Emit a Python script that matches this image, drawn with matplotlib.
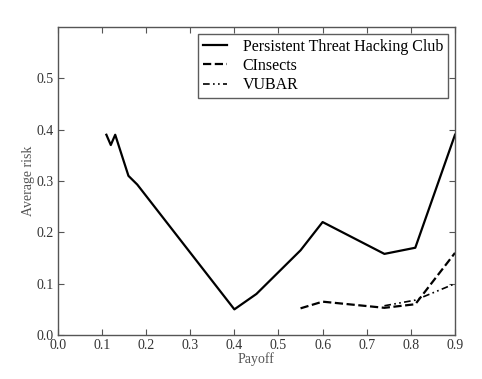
import numpy as np
import matplotlib.pyplot as plt

# Data
pthc_x = [0.11, 0.12, 0.13, 0.16, 0.18, 0.40, 0.45, 0.55, 0.60, 0.74, 0.81, 0.90]
pthc_y = [0.39, 0.37, 0.39, 0.31, 0.293, 0.05, 0.08, 0.165, 0.22, 0.158, 0.17, 0.39]

cins_x = [0.55, 0.60, 0.74, 0.81, 0.90]
cins_y = [0.052, 0.065, 0.053, 0.06, 0.16]

vubar_x = [0.74, 0.81, 0.90]
vubar_y = [0.057, 0.068, 0.10]

x_ticks = [0.0, 0.1, 0.2, 0.3, 0.4, 0.5, 0.6, 0.7, 0.8, 0.9]
y_ticks = [0.0, 0.1, 0.2, 0.3, 0.4, 0.5]

plt.rcParams['font.family'] = ['Liberation Serif', 'DejaVu Serif']

fig = plt.figure(figsize=(4.82, 3.79), dpi=100)
ax = fig.add_axes([0.120, 0.116, 0.824, 0.813])

ax.plot(pthc_x, pthc_y, color='black', linestyle='-', linewidth=1.6,
        label='Persistent Threat Hacking Club')
ax.plot(cins_x, cins_y, color='black', linestyle='--', linewidth=1.6,
        label='CInsects')
ax.plot(vubar_x, vubar_y, color='black', linestyle=(0, (4, 2, 1, 2, 1, 2)),
        linewidth=1.2, label='VUBAR')

ax.set_xlim(0, 0.9)
ax.set_ylim(0, 0.6)
ax.set_xticks(x_ticks)
ax.set_yticks(y_ticks)
ax.set_xticklabels(['%.1f' % v for v in x_ticks], fontsize=10, color='#333333')
ax.set_yticklabels(['%.1f' % v for v in y_ticks], fontsize=10, color='#333333')
ax.tick_params(direction='in', top=True, right=True, length=4, color='#555555',
               pad=3)
for s in ax.spines.values():
    s.set_color('#555555')
    s.set_linewidth(1.0)

ax.set_xlabel('Payoff', fontsize=10, color='#555555', labelpad=0)
ax.set_ylabel('Average risk', fontsize=10, color='#555555')
ax.yaxis.set_label_coords(-0.058, 0.5)

leg = ax.legend(loc='upper right', fontsize=11.5, fancybox=False,
                handlelength=1.5, borderpad=0.3, labelspacing=0.2,
                handletextpad=1.0, borderaxespad=0.45)
leg.get_frame().set_edgecolor('#333333')
leg.get_frame().set_linewidth(1.0)

fig.savefig('out.png', dpi=100)
